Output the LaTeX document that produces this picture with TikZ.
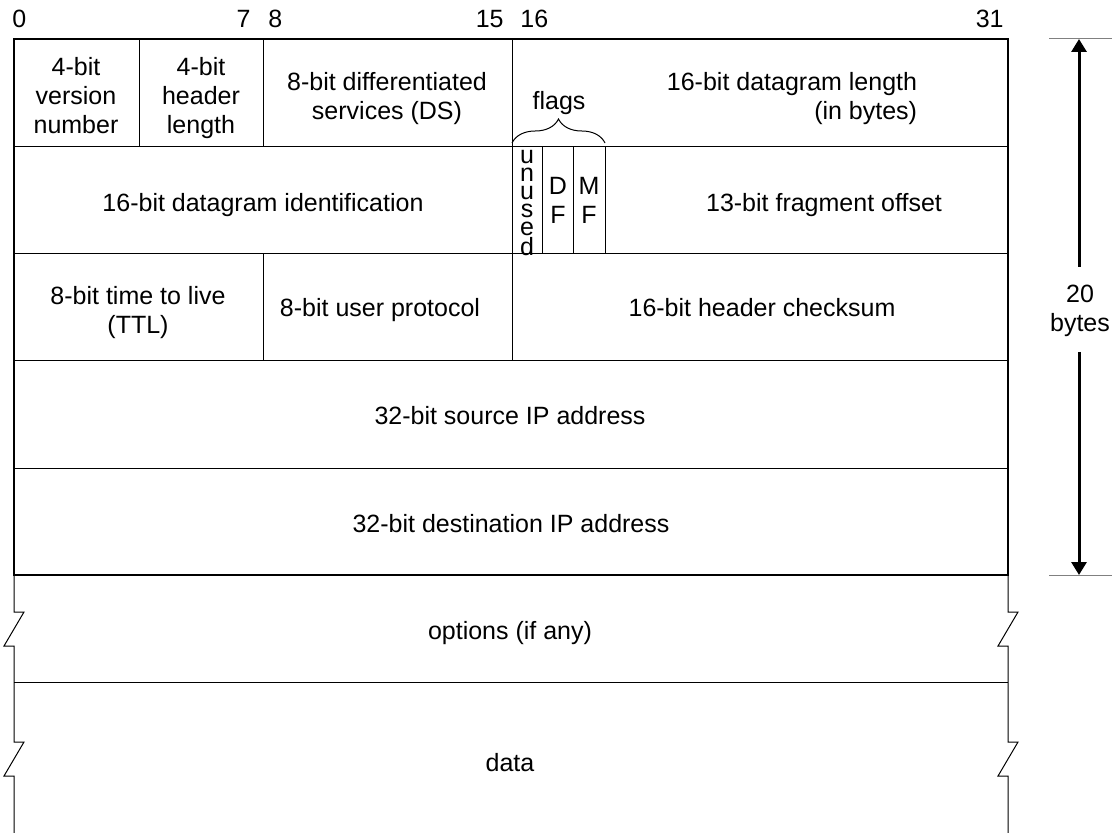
\documentclass[tikz,border=0pt]{standalone}
\usepackage{fontspec}
\setmainfont{Liberation Sans}
\usetikzlibrary{arrows.meta,decorations.pathreplacing}

\begin{document}
\begin{tikzpicture}[x=0.5pt, y=-0.5pt,
  fld/.style={font=\fontsize{12.5}{14.5}\selectfont, align=center, inner sep=0pt},
  bitno/.style={font=\fontsize{12.5}{14.5}\selectfont, inner sep=0pt},
  thin line/.style={black, line width=0.5pt},
  dim arrow/.style={line width=1.5pt, -{Triangle[length=6.5pt,width=7.5pt]}}]
  \useasboundingbox (0,0) rectangle (1112,833);
  \def\L{14} \def\R{1008} \def\T{39} \def\B{575}
  % header rows and fields
  \foreach \y in {147,254,361,468} { \draw[thin line] (\L,\y) -- (\R,\y); }
  \draw[thin line] (139,\T) -- (139,147);
  \draw[thin line] (263,\T) -- (263,147);
  \draw[thin line] (263,254) -- (263,361);
  \draw[thin line] (512,\T) -- (512,361);
  \foreach \x in {542,573,605} { \draw[thin line] (\x,147) -- (\x,254); }
  \draw[line width=1pt] (\L,\T) rectangle (\R,\B);
  % options and data, with break marks
  \draw[thin line] (\L,682) -- (\R,682);
  \foreach \x in {\L,\R} {
    \draw[thin line] (\x,\B) -- (\x,612) -- ++(10,0) -- ++(-20,34) -- ++(10,0)
      -- (\x,742) -- ++(10,0) -- ++(-20,34) -- ++(10,0) -- (\x,833);
  }
  \draw[thin line, decorate, decoration={brace, amplitude=12pt}] (512,143) -- (605,143);
  % bit numbers
  \node[bitno, anchor=base west] (b0) at (12,28) {0};
  \node[bitno, anchor=base east] (b7) at (251,28) {7};
  \node[bitno, anchor=base west] (b8) at (268,28) {8};
  \node[bitno, anchor=base east] (b15) at (504,28) {15};
  \node[bitno, anchor=base west] (b16) at (520,28) {16};
  \node[bitno, anchor=base east] (b31) at (1004,28) {31};
  % field texts
  \node[fld, anchor=north] (ver) at (76,57) {4-bit\\version\\number};
  \node[fld, anchor=north] (hlen) at (201,57) {4-bit\\header\\length};
  \node[fld, anchor=north] (ds) at (387,72) {8-bit differentiated\\services (DS)};
  \node[fld, align=right, anchor=north] (len) at (792,72) {16-bit datagram length\\(in bytes)};
  \node[fld, anchor=base] (flags) at (559,110) {flags};
  \node[fld, anchor=base] (ident) at (263,212) {16-bit datagram identification};
  \node[fld, font=\fontsize{12.5}{9}\selectfont, anchor=north] (unused) at (527,150) {u\\n\\u\\s\\e\\d};
  \node[fld, anchor=north] (df) at (558,177) {D\\F};
  \node[fld, anchor=north] (mf) at (589,177) {M\\F};
  \node[fld, anchor=base] (frag) at (824,212) {13-bit fragment offset};
  \node[fld, anchor=north] (ttl) at (138,286) {8-bit time to live\\(TTL)};
  \node[fld, anchor=base] (proto) at (380,317) {8-bit user protocol};
  \node[fld, anchor=base] (csum) at (762,317) {16-bit header checksum};
  \node[fld, anchor=base] (src) at (510,425) {32-bit source IP address};
  \node[fld, anchor=base] (dst) at (511,532) {32-bit destination IP address};
  \node[fld, anchor=base] (opt) at (510,639) {options (if any)};
  \node[fld, anchor=base] (data) at (510,771) {data};
  % header size
  \draw[thin line, gray] (1049,\T) -- (1112,\T);
  \draw[thin line, gray] (1049,\B) -- (1112,\B);
  \node[fld, anchor=north] (size) at (1080,285) {20\\bytes};
  \coordinate (hTop) at (1079,\T);
  \coordinate (hBot) at (1079,\B);
  \coordinate (gapTop) at (1079,267);
  \coordinate (gapBot) at (1079,352);
  \draw[dim arrow] (gapTop) -- (hTop);
  \draw[dim arrow] (gapBot) -- (hBot);
\end{tikzpicture}
\end{document}
